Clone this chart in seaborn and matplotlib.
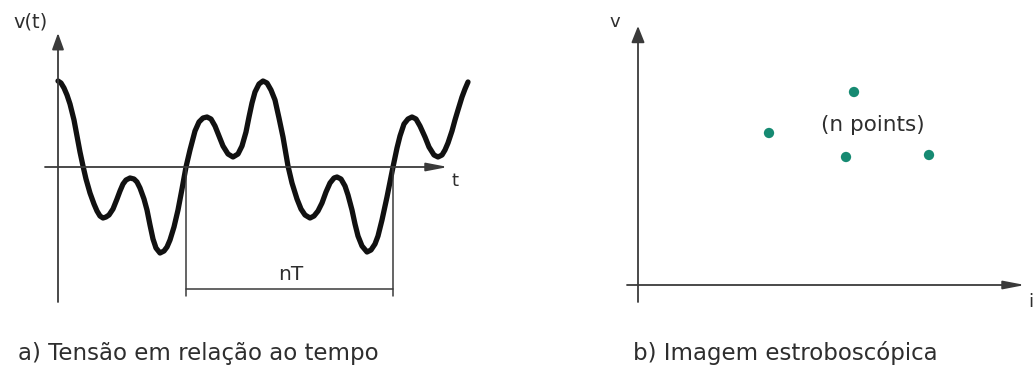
import matplotlib
matplotlib.use("Agg")
import matplotlib.pyplot as plt
import pandas as pd
import seaborn as sns

# ---- a) periodic voltage v(t): time and voltage samples (arbitrary units) ----
t_wave = [0.0, 0.3, 0.6, 0.9, 1.2, 1.6, 1.9, 2.2, 2.5, 2.8, 3.2, 3.6, 3.9, 4.2, 4.5,
          4.8, 5.1, 5.5, 5.9, 6.2, 6.5, 6.8, 7.2, 7.6, 7.9, 8.2, 8.6, 8.9, 9.2, 9.5,
          9.8, 10.2, 10.6, 10.9, 11.2, 11.6, 12.0, 12.4, 12.8, 13.2, 13.7, 14.1, 14.5,
          14.9, 15.3, 15.7, 16.1, 16.5, 17.0, 17.5, 18.0, 18.4, 18.8, 19.1, 19.4, 19.7,
          20.1, 20.5, 20.9, 21.3, 21.7, 22.1, 22.5, 23.0, 23.4, 23.9, 24.3, 24.7, 25.2,
          25.6, 26.0, 26.4, 26.8, 27.2, 27.6, 27.9, 28.3, 28.7, 29.0, 29.4, 29.7, 30.0,
          30.4, 30.9, 31.3, 31.7, 32.0, 32.4, 32.9, 33.2, 33.5, 33.9, 34.2, 34.6, 35.0,
          35.4, 35.8, 36.2, 36.7, 37.1, 37.6, 38.0, 38.4, 38.7, 39.0, 39.4, 39.7, 40.0,
          40.4, 40.7, 41.0]
v_wave = [8.6, 8.4, 7.9, 7.2, 6.3, 4.7, 3.1, 1.5, 0.1, -1.2, -2.6, -3.7, -4.4, -4.9, -5.1,
          -5.0, -4.8, -4.2, -3.2, -2.4, -1.7, -1.3, -1.1, -1.2, -1.5, -2.1, -3.2, -4.3, -5.8, -7.2,
          -8.1, -8.6, -8.4, -8.0, -7.3, -6.0, -4.3, -2.2, 0.0, 1.7, 3.6, 4.5, 4.9,
          5.0, 4.8, 4.1, 3.1, 2.1, 1.3, 1.0, 1.3, 2.1, 3.5, 5.0, 6.4, 7.5,
          8.3, 8.6, 8.4, 7.7, 6.7, 4.9, 3.0, 0.1, -1.6, -3.2, -4.2, -4.8, -5.1,
          -4.9, -4.4, -3.6, -2.5, -1.6, -1.1, -1.0, -1.2, -1.9, -2.8, -4.3, -5.7, -6.9,
          -7.9, -8.5, -8.3, -7.7, -6.9, -5.3, -3.0, -1.5, 0.0, 1.9, 3.1, 4.3, 4.8,
          5.0, 4.8, 4.1, 3.0, 2.0, 1.2, 1.0, 1.2, 1.7, 2.4, 3.6, 4.7, 5.7,
          7.0, 7.8, 8.5]

# ---- b) stroboscopic image: current / voltage pairs sampled once per period ----
i_points = [13.1, 21.6, 20.8, 29.1]
v_points = [15.2, 19.3, 12.8, 13.0]

# ---- text ----
caption_a = "a) Tensão em relação ao tempo"
caption_b = "b) Imagem estroboscópica"
label_vt = "v(t)"
label_t = "t"
label_nT = "nT"
label_v = "v"
label_i = "i"
label_points = "(n points)"

sns.set_theme(style="white")
plt.rcParams["font.family"] = ["DejaVu Sans"]

W, H = 1033, 368
fig = plt.figure(figsize=(W / 100, H / 100), dpi=100)
fig.patch.set_facecolor("white")

AXIS_COLOR = "#3a3a3a"
TEXT_COLOR = "#2e2e2e"


def px_axes(x0, y0, x1, y1):
    """Axes occupying a pixel box (top-left origin)."""
    return fig.add_axes([x0 / W, 1 - y1 / H, (x1 - x0) / W, (y1 - y0) / H])


def px_text(x, y, s, **kw):
    kw.setdefault("color", TEXT_COLOR)
    fig.text(x / W, 1 - y / H, s, **kw)


def arrow(ax, start, tip, length, width):
    ax.annotate("", xy=tip, xytext=start,
                arrowprops=dict(arrowstyle=f"-|>,head_length={length},head_width={width}",
                                color=AXIS_COLOR, lw=1.3, shrinkA=0, shrinkB=0,
                                mutation_scale=10),
                annotation_clip=False)


# ---------------- panel a ----------------
axL = px_axes(10, 10, 480, 320)
axL.set_xlim(-4.8, 42.2)
axL.set_ylim(-15.3, 15.7)
axL.axis("off")

wave = pd.DataFrame({"t": t_wave, "v": v_wave})
sns.lineplot(data=wave, x="t", y="v", ax=axL, sort=False, color="#111111",
             lw=3.8, solid_capstyle="round", solid_joinstyle="round")

arrow(axL, (-1.3, 0), (39.0, 0), 1.3, 0.25)      # time axis
arrow(axL, (0, -13.5), (0, 13.4), 1.0, 0.36)     # voltage axis

# nT bracket between two zero crossings one period apart
t_a, t_b = t_wave[38], t_wave[90]
for tt in (t_a, t_b):
    axL.plot([tt, tt], [0, -12.9], color=AXIS_COLOR, lw=1.1)
axL.plot([t_a, t_b], [-12.2, -12.2], color=AXIS_COLOR, lw=1.1)

px_text(13, 22, label_vt, fontsize=14, va="center", ha="left")
px_text(455, 181, label_t, fontsize=13, va="center", ha="center")
px_text(291, 274, label_nT, fontsize=14.5, va="center", ha="center")
px_text(18, 360, caption_a, fontsize=16.5, va="baseline", ha="left")

# ---------------- panel b ----------------
axR = px_axes(560, 10, 1033, 320)
axR.set_xlim(-7.8, 39.5)
axR.set_ylim(-3.5, 27.5)
axR.axis("off")

strobe = pd.DataFrame({"i": i_points, "v": v_points})
sns.scatterplot(data=strobe, x="i", y="v", ax=axR, color="#168a72", s=55,
                edgecolor="none", zorder=3)

arrow(axR, (-1.1, 0), (38.7, 0), 1.3, 0.25)      # current axis
arrow(axR, (0, -1.7), (0, 25.9), 1.0, 0.4)       # voltage axis

px_text(615, 22, label_v, fontsize=13, va="center", ha="center")
px_text(1031, 302, label_i, fontsize=13, va="center", ha="center")
px_text(873, 125, label_points, fontsize=15.5, va="center", ha="center")
px_text(633, 360, caption_b, fontsize=16.5, va="baseline", ha="left")

fig.savefig("out.png", dpi=100, facecolor="white")
